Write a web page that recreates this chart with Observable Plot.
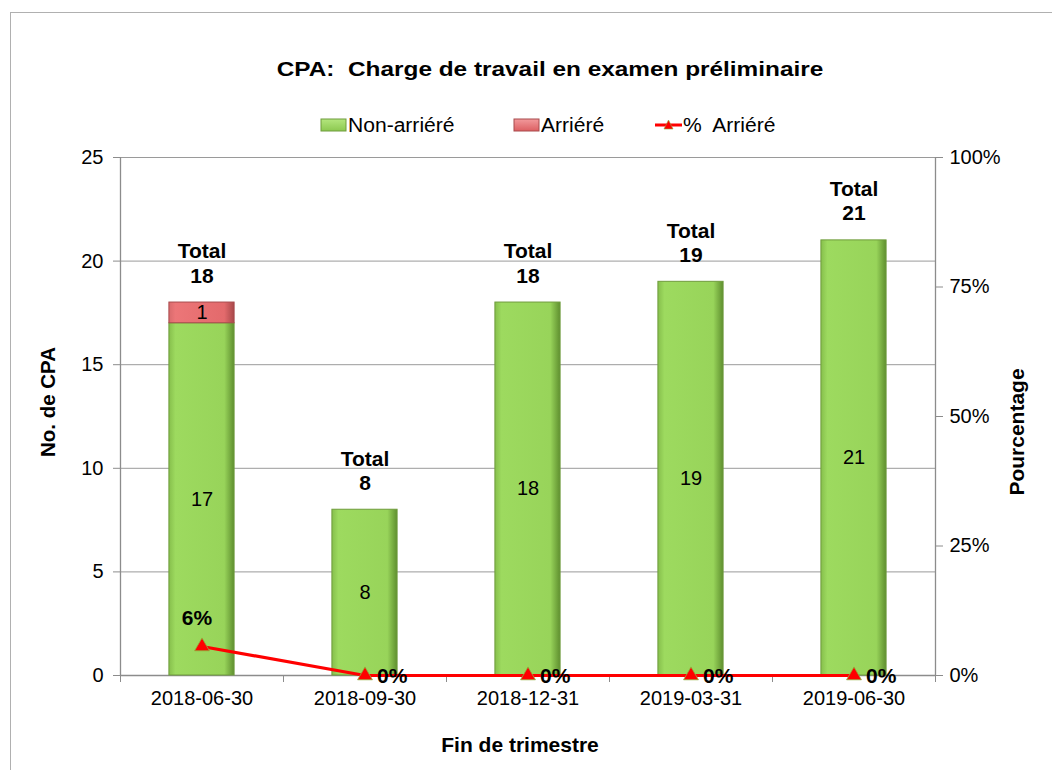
<!DOCTYPE html>
<html><head><meta charset="utf-8">
<script src="https://cdn.jsdelivr.net/npm/d3@7"></script>
<script src="https://cdn.jsdelivr.net/npm/@observablehq/plot@0.6"></script>
<style>
body{margin:0;background:#fff;font-family:"Liberation Sans",Arial,sans-serif;}
#wrap{position:relative;width:1052px;height:770px;overflow:hidden;}
#frame{position:absolute;left:10px;top:12px;width:1100px;height:800px;border-left:1.5px solid #b0b0b0;border-top:1.5px solid #b0b0b0;}
#title{position:absolute;top:57px;left:550px;transform:translateX(-50%) scaleX(1.16);font-weight:bold;font-size:21px;white-space:pre;}
#legend{position:absolute;top:113px;left:0;width:1052px;font-size:19.5px;}
.li{position:absolute;top:0;display:flex;align-items:center;height:24px;}
.li span{display:inline-block;transform-origin:left center;transform:scaleX(1.08);}
#ytitle{position:absolute;left:48px;top:402px;transform:translate(-50%,-50%) rotate(-90deg);font-weight:bold;font-size:20.5px;white-space:nowrap;}
#y2title{position:absolute;left:1017px;top:432px;transform:translate(-50%,-50%) rotate(-90deg);font-weight:bold;font-size:21px;white-space:nowrap;}
#xtitle{position:absolute;top:733px;left:520px;transform:translateX(-50%);font-weight:bold;font-size:21px;white-space:nowrap;}
#chart{position:absolute;left:0;top:140px;}
</style></head>
<body>
<div id="wrap">
<div id="frame"></div>
<div id="title">CPA:  Charge de travail en examen préliminaire</div>
<div id="legend"></div>
<div id="chart"></div>
<div id="ytitle">No. de CPA</div>
<div id="y2title">Pourcentage</div>
<div id="xtitle">Fin de trimestre</div>
</div>
<script>
const dates = ["2018-06-30","2018-09-30","2018-12-31","2019-03-31","2019-06-30"];
const nonArriere = [17, 8, 18, 19, 21];
const arriere = [1, 0, 0, 0, 0];
const pctArriere = [5.6, 0, 0, 0, 0];
const yTicks = [0, 5, 10, 15, 20, 25];
const pctTicks = [0, 25, 50, 75, 100];
const legendItems = ["Non-arriéré", "Arriéré", "%  Arriéré"];

const Y_MAX = 25;
const pctToY = p => p / 100 * Y_MAX;
const table = dates.map((d, i) => ({
  i, date: d, non: nonArriere[i], arr: arriere[i],
  total: nonArriere[i] + arriere[i], pct: pctArriere[i]
}));

const font = "Liberation Sans, Arial, sans-serif";
const grey = "#8c8c8c";
const plot = Plot.plot({
  width: 1052, height: 630,
  marginTop: 17, marginBottom: 95, marginLeft: 120, marginRight: 117,
  style: {fontFamily: font, fontSize: "20px", color: "#000", overflow: "visible"},
  x: {domain: [0, dates.length], axis: null},
  y: {domain: [0, Y_MAX], axis: null},
  marks: [
    Plot.gridY(yTicks.filter(t => t > 0), {stroke: "#9a9a9a", strokeOpacity: 1, strokeWidth: 1}),
    Plot.ruleX([0, dates.length], {stroke: grey, strokeWidth: 1.3}),
    Plot.ruleY([0], {stroke: grey, strokeWidth: 1.3}),
    Plot.axisY({ticks: yTicks, tickSize: 7, tickPadding: 10, stroke: grey, fontSize: 20, label: null, tickFormat: d => d}),
    Plot.axisY({anchor: "right", ticks: pctTicks.map(pctToY), tickSize: 7, tickPadding: 7, stroke: grey, fontSize: 20, label: null, tickFormat: d => Math.round(d / Y_MAX * 100) + "%"}),
    Plot.axisX({ticks: d3.range(dates.length + 1), tickSize: 7, stroke: grey, tickFormat: () => "", label: null}),
    Plot.axisX({ticks: table.map(d => d.i + 0.5), tickSize: 0, tickPadding: 15, fontSize: 20, label: null, tickFormat: v => dates[Math.round(v - 0.5)]}),
    Plot.rectY(table, {x1: d => d.i + 0.3, x2: d => d.i + 0.7, y1: 0, y2: "non", fill: "url(#gGreen)", stroke: "#6f9c3c", strokeWidth: 1}),
    Plot.rectY(table.filter(d => d.arr > 0), {x1: d => d.i + 0.3, x2: d => d.i + 0.7, y1: "non", y2: "total", fill: "url(#gRed)", stroke: "#a84a4c", strokeWidth: 1}),
    Plot.text(table, {x: d => d.i + 0.5, y: d => d.non / 2, text: d => String(d.non), fontSize: 20, fill: "#000"}),
    Plot.text(table.filter(d => d.arr > 0), {x: d => d.i + 0.5, y: d => d.non + d.arr / 2, text: d => String(d.arr), fontSize: 20, fill: "#000"}),
    Plot.text(table, {x: d => d.i + 0.5, y: "total", text: d => "Total\n" + d.total, lineAnchor: "bottom", lineHeight: 1.15, dy: -20, fontSize: 21, fontWeight: "bold", fill: "#000"}),
    Plot.line(table, {x: d => d.i + 0.5, y: d => pctToY(d.pct), stroke: "#ff0000", strokeWidth: 3.2}),
    Plot.dot(table, {x: d => d.i + 0.5, y: d => pctToY(d.pct), symbol: "triangle", r: 5.5, fill: "#ff0000", stroke: "#8fae3a", strokeWidth: 0.8}),
    Plot.text(table.filter(d => d.pct > 0), {x: d => d.i + 0.5, y: d => pctToY(d.pct), text: d => Math.round(d.pct) + "%", dy: -28, dx: -5, fontSize: 21, fontWeight: "bold", fill: "#000"}),
    Plot.text(table.filter(d => d.pct === 0), {x: d => d.i + 0.5, y: d => pctToY(d.pct), text: d => Math.round(d.pct) + "%", textAnchor: "start", dx: 12, dy: 1, fontSize: 21, fontWeight: "bold", fill: "#000"})
  ]
});

const defs = `<defs>
<linearGradient id="gGreen" x1="0" x2="1" y1="0" y2="0">
<stop offset="0" stop-color="#86bf4c"/><stop offset="0.1" stop-color="#9dda5f"/>
<stop offset="0.85" stop-color="#98d45a"/><stop offset="1" stop-color="#5f8f2f"/></linearGradient>
<linearGradient id="gRed" x1="0" x2="1" y1="0" y2="0">
<stop offset="0" stop-color="#d86a6c"/><stop offset="0.1" stop-color="#ec7678"/>
<stop offset="0.85" stop-color="#e36a6c"/><stop offset="1" stop-color="#a8484a"/></linearGradient>
</defs>`;
plot.insertAdjacentHTML("afterbegin", defs);
document.getElementById("chart").appendChild(plot);

// legend
const leg = document.getElementById("legend");
const pos = [320, 513, 655];
legendItems.forEach((name, k) => {
  const div = document.createElement("div");
  div.className = "li";
  div.style.left = pos[k] + "px";
  let sw;
  if (k < 2) {
    const st = k === 0 ? "#6f9c3c" : "#a84a4c";
    const f1 = k === 0 ? "#b4e67e" : "#f29a9c";
    const f2 = k === 0 ? "#8cc850" : "#dc5f62";
    sw = `<svg width="27" height="14"><defs><linearGradient id="lg${k}" x1="0" x2="0" y1="0" y2="1"><stop offset="0" stop-color="${f1}"/><stop offset="1" stop-color="${f2}"/></linearGradient></defs><rect x="1" y="1" width="25" height="12" fill="url(#lg${k})" stroke="${st}"/></svg>`;
  } else {
    sw = `<svg width="27" height="14"><line x1="0" x2="27" y1="7" y2="7" stroke="#ff0000" stroke-width="3"/><path d="M13.5,2 L18,11 L9,11 Z" fill="#ff0000" stroke="#8fae3a" stroke-width="0.6"/></svg>`;
  }
  div.innerHTML = sw + `<span style="margin-left:1px;white-space:pre">${name}</span>`;
  leg.appendChild(div);
});
</script>
</body></html>
